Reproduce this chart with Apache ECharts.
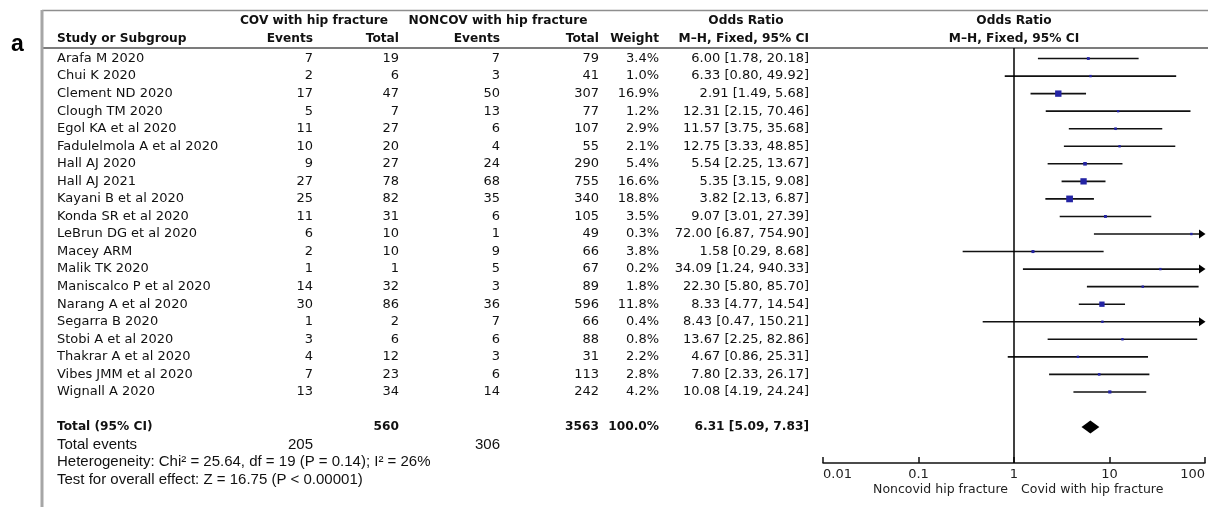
<!DOCTYPE html>
<html>
<head>
<meta charset="utf-8">
<script src="https://cdn.jsdelivr.net/npm/echarts@6/dist/echarts.min.js"></script>
<style>
  html, body { margin: 0; padding: 0; background: #fff; }
  #chart { width: 1208px; height: 507px; }
</style>
</head>
<body>
<div id="chart"></div>
<script>
// ---- Study data ----
const studies = [
  'Arafa M 2020', 'Chui K 2020', 'Clement ND 2020', 'Clough TM 2020', 'Egol KA et al 2020',
  'Fadulelmola A et al 2020', 'Hall AJ 2020', 'Hall AJ 2021', 'Kayani B et al 2020', 'Konda SR et al 2020',
  'LeBrun DG et al 2020', 'Macey ARM', 'Malik TK 2020', 'Maniscalco P et al 2020', 'Narang A et al 2020',
  'Segarra B 2020', 'Stobi A et al 2020', 'Thakrar A et al 2020', 'Vibes JMM et al 2020', 'Wignall A 2020'
];
const covEvents    = [7, 2, 17, 5, 11, 10, 9, 27, 25, 11, 6, 2, 1, 14, 30, 1, 3, 4, 7, 13];
const covTotal     = [19, 6, 47, 7, 27, 20, 27, 78, 82, 31, 10, 10, 1, 32, 86, 2, 6, 12, 23, 34];
const noncovEvents = [7, 3, 50, 13, 6, 4, 24, 68, 35, 6, 1, 9, 5, 3, 36, 7, 6, 3, 6, 14];
const noncovTotal  = [79, 41, 307, 77, 107, 55, 290, 755, 340, 105, 49, 66, 67, 89, 596, 66, 88, 31, 113, 242];
const weights      = [3.4, 1.0, 16.9, 1.2, 2.9, 2.1, 5.4, 16.6, 18.8, 3.5, 0.3, 3.8, 0.2, 1.8, 11.8, 0.4, 0.8, 2.2, 2.8, 4.2];
const oddsRatio    = [6.00, 6.33, 2.91, 12.31, 11.57, 12.75, 5.54, 5.35, 3.82, 9.07, 72.00, 1.58, 34.09, 22.30, 8.33, 8.43, 13.67, 4.67, 7.80, 10.08];
const ciLow        = [1.78, 0.80, 1.49, 2.15, 3.75, 3.33, 2.25, 3.15, 2.13, 3.01, 6.87, 0.29, 1.24, 5.80, 4.77, 0.47, 2.25, 0.86, 2.33, 4.19];
const ciHigh       = [20.18, 49.92, 5.68, 70.46, 35.68, 48.85, 13.67, 9.08, 6.87, 27.39, 754.90, 8.68, 940.33, 85.70, 14.54, 150.21, 82.86, 25.31, 26.17, 24.24];

// ---- Pooled result ----
const totalCov = 560;
const totalNoncov = 3563;
const totalWeight = 100.0;
const pooledOR = 6.31;
const pooledLow = 5.09;
const pooledHigh = 7.83;
const totalEventsCov = 205;
const totalEventsNoncov = 306;
const heterogeneityText = 'Heterogeneity: Chi\u00B2 = 25.64, df = 19 (P = 0.14); I\u00B2 = 26%';
const overallEffectText = 'Test for overall effect: Z = 16.75 (P < 0.00001)';

// ---- Axis ----
const axisTickValues = [0.01, 0.1, 1, 10, 100];
const axisTickLabels = ['0.01', '0.1', '1', '10', '100'];
const axisLeftTitle = 'Noncovid hip fracture';
const axisRightTitle = 'Covid with hip fracture';

// ---- Layout ----
const FONT = '"DejaVu Sans", "Noto Sans", sans-serif';
const FONT_FOOT = '"Liberation Sans", Arial, sans-serif';
const BOLD = 'bold 12.2px ' + FONT;
const COL = { name: 57, covEvents: 313, covTotal: 399, ncEvents: 500, ncTotal: 599, weight: 659, or: 809 };
const ROW_TOTAL = 21, ROW_EVENTS = 22, ROW_HET = 23, ROW_TEST = 24;

const fmtCI = (o, l, h) => o.toFixed(2) + ' [' + l.toFixed(2) + ', ' + h.toFixed(2) + ']';

function txt(text, x, y, align, font, color) {
  return {
    type: 'text', x: x, y: y, silent: true,
    style: {
      text: text, font: font, fill: color || '#111',
      align: align, textAlign: align, verticalAlign: 'middle', textVerticalAlign: 'middle'
    }
  };
}

const chart = echarts.init(document.getElementById('chart'), null, { renderer: 'canvas' });

// rows for the table series
const tableRows = studies.map((s, i) => [i]).concat([[ROW_TOTAL], [ROW_EVENTS], [ROW_HET], [ROW_TEST]]);

const option = {
  animation: false,
  backgroundColor: '#fff',
  grid: { left: 823, right: 2, top: 48, bottom: 44, containLabel: false },
  xAxis: {
    type: 'log', logBase: 10, min: 0.01, max: 100, interval: 1, position: 'bottom',
    axisLine: { show: true, onZero: false, lineStyle: { color: '#111', width: 1.5 } },
    axisTick: { show: true, inside: true, length: 6, lineStyle: { color: '#111', width: 1.5 } },
    splitLine: { show: false },
    minorTick: { show: false },
    axisLabel: {
      show: true, margin: 5, color: '#222', fontSize: 13, fontFamily: FONT,
      alignMinLabel: 'left', alignMaxLabel: 'right',
      formatter: function (v) {
        let best = 0, bd = Infinity;
        axisTickValues.forEach((t, k) => {
          const d = Math.abs(Math.log10(t) - Math.log10(v));
          if (d < bd) { bd = d; best = k; }
        });
        return axisTickLabels[best];
      }
    }
  },
  yAxis: {
    type: 'value', inverse: true, min: -0.6, max: 23.05, show: false,
    axisLine: { show: false }, splitLine: { show: false }
  },
  series: [
    // confidence interval whiskers, arrowed where they run past the axis
    {
      type: 'custom', z: 2, clip: false, silent: true,
      data: studies.map((s, i) => [oddsRatio[i], ciLow[i], ciHigh[i], i]),
      renderItem: function (params, api) {
        const lo = api.value(1), hi = api.value(2), row = api.value(3);
        const xMax = 100;
        const clipped = hi > xMax;
        const p1 = api.coord([lo, row]);
        const p2 = api.coord([Math.min(hi, xMax), row]);
        const children = [{
          type: 'line',
          shape: { x1: p1[0], y1: p1[1], x2: clipped ? p2[0] - 4 : p2[0], y2: p2[1] },
          style: { stroke: '#111', lineWidth: 1.6 }
        }];
        if (clipped) {
          children.push({
            type: 'polygon',
            shape: { points: [[p2[0] + 0.5, p2[1]], [p2[0] - 6, p2[1] - 4.5], [p2[0] - 6, p2[1] + 4.5]] },
            style: { fill: '#000' }
          });
        }
        return { type: 'group', children: children };
      }
    },
    // study weight boxes
    {
      type: 'scatter', z: 3, silent: true,
      symbol: 'rect',
      data: studies.map((s, i) => [oddsRatio[i], i]),
      symbolSize: function (val, params) {
        return Math.max(2.4, Math.sqrt(weights[params.dataIndex]) * 1.55);
      },
      itemStyle: { color: '#2424a4', opacity: 1 },
      markLine: {
        silent: true, symbol: ['none', 'none'],
        label: { show: false },
        lineStyle: { color: '#000', width: 1.5, type: 'solid' },
        data: [{ xAxis: 1 }]
      }
    },
    // pooled estimate diamond
    {
      type: 'custom', z: 3, clip: false, silent: true,
      data: [[pooledOR, pooledLow, pooledHigh, ROW_TOTAL]],
      renderItem: function (params, api) {
        const row = api.value(3);
        const c = api.coord([api.value(0), row]);
        const l = api.coord([api.value(1), row]);
        const r = api.coord([api.value(2), row]);
        const h = 6.5;
        return {
          type: 'polygon',
          shape: { points: [[l[0], c[1]], [c[0], c[1] - h], [r[0], c[1]], [c[0], c[1] + h]] },
          style: { fill: '#000' }
        };
      }
    },
    // table text rows
    {
      type: 'custom', z: 4, clip: false, silent: true,
      data: tableRows,
      renderItem: function (params, api) {
        const i = params.dataIndex;
        const row = api.value(0);
        const y = api.coord([1, row])[1];
        const reg = '13px ' + FONT;
        const foot = '15px ' + FONT_FOOT;
        let children = [];
        if (i < studies.length) {
          children = [
            txt(studies[i], COL.name, y, 'left', reg),
            txt(String(covEvents[i]), COL.covEvents, y, 'right', reg),
            txt(String(covTotal[i]), COL.covTotal, y, 'right', reg),
            txt(String(noncovEvents[i]), COL.ncEvents, y, 'right', reg),
            txt(String(noncovTotal[i]), COL.ncTotal, y, 'right', reg),
            txt(weights[i].toFixed(1) + '%', COL.weight, y, 'right', reg),
            txt(fmtCI(oddsRatio[i], ciLow[i], ciHigh[i]), COL.or, y, 'right', reg)
          ];
        } else if (row === ROW_TOTAL) {
          children = [
            txt('Total (95% CI)', COL.name, y, 'left', BOLD),
            txt(String(totalCov), COL.covTotal, y, 'right', BOLD),
            txt(String(totalNoncov), COL.ncTotal, y, 'right', BOLD),
            txt(totalWeight.toFixed(1) + '%', COL.weight, y, 'right', BOLD),
            txt(fmtCI(pooledOR, pooledLow, pooledHigh), COL.or, y, 'right', BOLD)
          ];
        } else if (row === ROW_EVENTS) {
          children = [
            txt('Total events', COL.name, y, 'left', foot),
            txt(String(totalEventsCov), COL.covEvents, y, 'right', foot),
            txt(String(totalEventsNoncov), COL.ncEvents, y, 'right', foot)
          ];
        } else if (row === ROW_HET) {
          children = [txt(heterogeneityText, COL.name, y, 'left', foot)];
        } else if (row === ROW_TEST) {
          children = [txt(overallEffectText, COL.name, y, 'left', foot)];
        }
        return { type: 'group', children: children };
      }
    }
  ],
  graphic: [
    // panel label
    txt('a', 11, 45, 'left', 'bold 23px "Liberation Sans", Arial, sans-serif', '#000'),
    // frame
    { type: 'line', silent: true, shape: { x1: 42, y1: 10.5, x2: 1208, y2: 10.5 }, style: { stroke: '#8e8e8e', lineWidth: 1.5 } },
    { type: 'line', silent: true, shape: { x1: 42, y1: 48, x2: 1208, y2: 48 }, style: { stroke: '#7c7c7c', lineWidth: 2 } },
    { type: 'line', silent: true, shape: { x1: 42, y1: 10, x2: 42, y2: 507 }, style: { stroke: '#a6a6a6', lineWidth: 3 } },
    // column headers
    txt('COV with hip fracture', 314, 21, 'center', BOLD),
    txt('NONCOV with hip fracture', 498, 21, 'center', BOLD),
    txt('Odds Ratio', 746, 21, 'center', BOLD),
    txt('Odds Ratio', 1014, 21, 'center', BOLD),
    txt('Study or Subgroup', COL.name, 38.5, 'left', BOLD),
    txt('Events', COL.covEvents, 38.5, 'right', BOLD),
    txt('Total', COL.covTotal, 38.5, 'right', BOLD),
    txt('Events', COL.ncEvents, 38.5, 'right', BOLD),
    txt('Total', COL.ncTotal, 38.5, 'right', BOLD),
    txt('Weight', COL.weight, 38.5, 'right', BOLD),
    txt('M\u2013H, Fixed, 95% CI', COL.or, 38.5, 'right', BOLD),
    txt('M\u2013H, Fixed, 95% CI', 1014, 38.5, 'center', BOLD),
    // axis direction titles
    txt(axisLeftTitle, 1008, 489.5, 'right', '12.5px ' + FONT, '#222'),
    txt(axisRightTitle, 1021, 489.5, 'left', '12.5px ' + FONT, '#222')
  ]
};

chart.setOption(option);
</script>
</body>
</html>
